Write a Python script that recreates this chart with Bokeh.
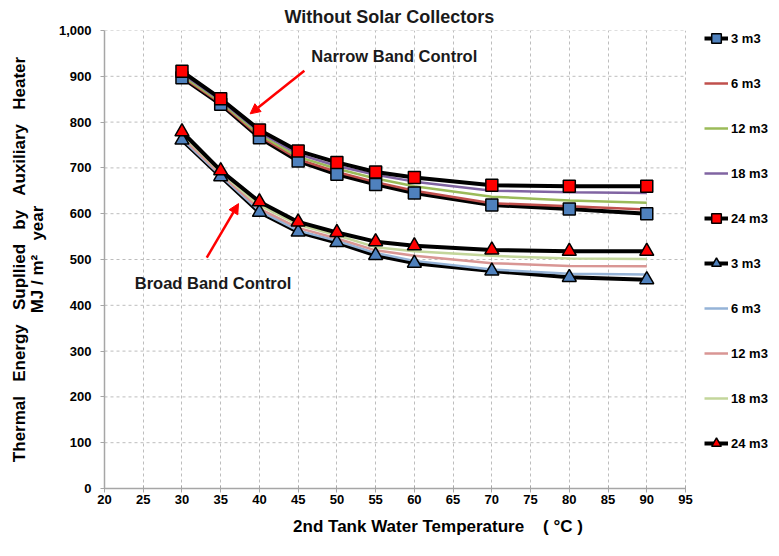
from bokeh.plotting import figure
from bokeh.models import (Range1d, FixedTicker, NumeralTickFormatter, Legend, LegendItem,
                          Label, Arrow, NormalHead, ColumnDataSource)
from bokeh.embed import file_html
from bokeh.resources import INLINE

# ---------------- data ----------------
temps = [30, 35, 40, 45, 50, 55, 60, 70, 80, 90]

narrow_3 = [897, 839, 766, 715, 686, 664, 645, 619, 610, 600]
narrow_6 = [899, 841, 769, 719, 691, 669, 650, 623, 616, 609]
narrow_12 = [902, 844, 773, 724, 698, 677, 660, 637, 629, 624]
narrow_18 = [906, 847, 778, 730, 704, 685, 670, 650, 647, 645]
narrow_24 = [911, 851, 783, 737, 712, 691, 679, 662, 660, 660]

broad_3 = [761, 681, 603, 560, 537, 509, 492, 475, 461, 456]
broad_6 = [763, 683, 606, 563, 541, 514, 497, 478, 469, 467]
broad_12 = [767, 686, 611, 569, 546, 520, 508, 492, 486, 485]
broad_18 = [773, 690, 618, 576, 553, 527, 518, 508, 502, 501]
broad_24 = [779, 694, 626, 582, 559, 539, 530, 521, 518, 518]

x_min, x_max = 20, 95
y_min, y_max = 0, 1000
x_ticks = list(range(20, 96, 5))
y_ticks = list(range(0, 1001, 100))

NB = "\u00a0"
title_text = "Without Solar Collectors"
x_label = "2nd Tank Water Temperature" + NB * 4 + "(" + NB + "\u00b0C" + NB + ")"
y_label = (NB * 3).join(["Thermal", "Energy", "Supllied", "by", "Auxiliary", "Heater"]) + \
    "\n" + "MJ / m\u00b2" + NB * 3 + "year"

narrow_text = "Narrow Band Control"
narrow_text_pos = (46.7, 945)
narrow_arrow = (45.8, 912, 38.8, 818)
broad_text = "Broad Band Control"
broad_text_pos = (23.9, 448)
broad_arrow = (33.2, 504, 37.3, 622)

FONT = "Liberation Sans"

# layout (pixels)
W, H = 771, 540
B_LEFT, B_TOP, B_BOTTOM = 104, 30, 52
PLOT_W = 581                      # width of the 20..95 part of the frame
FRAME_W = W - B_LEFT              # frame runs to the right edge; legend sits in it
x_end = x_min + FRAME_W * (x_max - x_min) / PLOT_W

src = ColumnDataSource(dict(t=temps,
                            n3=narrow_3, n6=narrow_6, n12=narrow_12, n18=narrow_18, n24=narrow_24,
                            b3=broad_3, b6=broad_6, b12=broad_12, b18=broad_18, b24=broad_24))

p = figure(width=W, height=H, output_backend="svg", toolbar_location=None,
           x_range=Range1d(x_min, x_end), y_range=Range1d(y_min, y_max),
           min_border_left=B_LEFT, min_border_right=0, min_border_top=B_TOP,
           min_border_bottom=B_BOTTOM)
p.outline_line_color = None
p.background_fill_color = "white"

# title
p.title.text = title_text
p.title.align = "left"
p.title.offset = 180
p.title.text_font = FONT
p.title.text_font_size = "18px"
p.title.text_font_style = "bold"
p.title.text_color = "#1a1a1a"
p.title.standoff = 8

# axes
for ax in (p.xaxis[0], p.yaxis[0]):
    ax.axis_line_color = "#a6a6a6"
    ax.axis_line_width = 1.5
    ax.major_tick_line_color = "#a6a6a6"
    ax.minor_tick_line_color = None
    ax.major_label_text_font = FONT
    ax.major_label_text_font_size = "13px"
    ax.major_label_text_font_style = "bold"
    ax.major_label_text_color = "black"
    ax.axis_label_text_font = FONT
    ax.axis_label_text_font_style = "bold"
    ax.axis_label_text_color = "black"

p.xaxis.bounds = (x_min, x_max)
p.xaxis.ticker = FixedTicker(ticks=x_ticks)
p.yaxis.ticker = FixedTicker(ticks=y_ticks)
p.yaxis.formatter = NumeralTickFormatter(format="0,0")
p.xaxis.major_tick_in = 3
p.xaxis.major_tick_out = 4
p.xaxis.major_label_standoff = 2
p.xaxis.axis_label = x_label
p.xaxis.axis_label_text_font_size = "17px"
p.xaxis.axis_label_standoff = 10
p.yaxis.major_tick_in = 0
p.yaxis.major_tick_out = 4
p.yaxis.major_label_standoff = 9
p.yaxis.axis_label = y_label
p.yaxis.axis_label_text_font_size = "17px"
p.yaxis.axis_label_text_line_height = 0.95
p.yaxis.axis_label_standoff = 9

# grid: vertical lines from the x grid, horizontal ones limited to the 20..95 span
GRID = dict(line_color="#bdbdbd", line_dash="3 3", line_width=1)
p.xgrid.ticker = FixedTicker(ticks=x_ticks)
p.xgrid.grid_line_color = GRID["line_color"]
p.xgrid.grid_line_dash = GRID["line_dash"]
p.ygrid.grid_line_color = None
p.segment(x0=[x_min] * len(y_ticks), x1=[x_max] * len(y_ticks), y0=y_ticks, y1=y_ticks, **GRID)

BLUE = "#4F81BD"
RED = "#FF0000"

# narrow band
l_n3 = p.line("t", "n3", source=src, line_color="black", line_width=4)
l_n6 = p.line("t", "n6", source=src, line_color="#C0504D", line_width=2.5)
l_n12 = p.line("t", "n12", source=src, line_color="#9BBB59", line_width=2.5)
l_n18 = p.line("t", "n18", source=src, line_color="#8064A2", line_width=2.5)
l_n24 = p.line("t", "n24", source=src, line_color="black", line_width=4)
# broad band
l_b3 = p.line("t", "b3", source=src, line_color="black", line_width=4)
l_b6 = p.line("t", "b6", source=src, line_color="#95B3D7", line_width=2.5)
l_b12 = p.line("t", "b12", source=src, line_color="#D99694", line_width=2.5)
l_b18 = p.line("t", "b18", source=src, line_color="#C3D69B", line_width=2.5)
l_b24 = p.line("t", "b24", source=src, line_color="black", line_width=4)

m_n3 = p.scatter("t", "n3", source=src, marker="square", size=12, fill_color=BLUE,
                 line_color="black", line_width=1.5)
m_n24 = p.scatter("t", "n24", source=src, marker="square", size=12, fill_color=RED,
                  line_color="black", line_width=1.5)
m_b3 = p.scatter("t", "b3", source=src, marker="triangle", size=14, fill_color=BLUE,
                 line_color="black", line_width=1.5)
m_b24 = p.scatter("t", "b24", source=src, marker="triangle", size=14, fill_color=RED,
                  line_color="black", line_width=1.5)

# annotations
p.add_layout(Label(x=narrow_text_pos[0], y=narrow_text_pos[1], text=narrow_text,
                   text_font=FONT, text_font_size="16.5px", text_font_style="bold",
                   text_baseline="middle", text_align="left", text_color="#1a1a1a"))
p.add_layout(Label(x=broad_text_pos[0], y=broad_text_pos[1], text=broad_text,
                   text_font=FONT, text_font_size="16.5px", text_font_style="bold",
                   text_baseline="middle", text_align="left", text_color="#1a1a1a"))
for (x0, y0, x1, y1) in (narrow_arrow, broad_arrow):
    p.add_layout(Arrow(x_start=x0, y_start=y0, x_end=x1, y_end=y1,
                       line_color=RED, line_width=2.5,
                       end=NormalHead(size=10, fill_color=RED, line_color=RED)))

# legend (inside the frame, right of the 95 line)
items = [
    LegendItem(label="3 m3", renderers=[l_n3, m_n3]),
    LegendItem(label="6 m3", renderers=[l_n6]),
    LegendItem(label="12 m3", renderers=[l_n12]),
    LegendItem(label="18 m3", renderers=[l_n18]),
    LegendItem(label="24 m3", renderers=[l_n24, m_n24]),
    LegendItem(label="3 m3", renderers=[l_b3, m_b3]),
    LegendItem(label="6 m3", renderers=[l_b6]),
    LegendItem(label="12 m3", renderers=[l_b12]),
    LegendItem(label="18 m3", renderers=[l_b18]),
    LegendItem(label="24 m3", renderers=[l_b24, m_b24]),
]
legend = Legend(items=items, location=(PLOT_W + 19, 33), margin=0, padding=0, spacing=21,
                glyph_width=24, glyph_height=24, label_height=24, label_width=40,
                label_standoff=3,
                label_text_font=FONT, label_text_font_size="13px", label_text_font_style="bold",
                label_text_color="black", background_fill_alpha=0, border_line_alpha=0)
p.add_layout(legend, "center")

open("out.html", "w").write(file_html(p, INLINE))
